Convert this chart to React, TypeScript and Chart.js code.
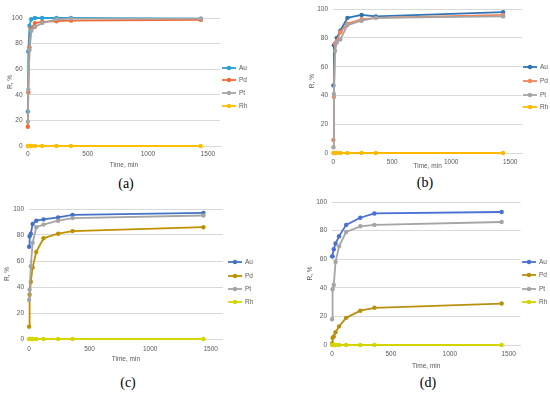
import React, { useEffect, useRef } from 'react';
import { Chart, registerables } from 'chart.js';
Chart.register(...registerables);

const timeMin = [1, 5, 15, 30, 60, 120, 240, 360, 1440];
const seriesNames = ['Au', 'Pd', 'Pt', 'Rh'];
const xTickValues = [0, 500, 1000, 1500];
const yTickValues = [0, 20, 40, 60, 80, 100];
const captions = ['(a)', '(b)', '(c)', '(d)'];

const auA = [27, 74, 94, 99, 100, 100, 100, 100, 99.5];
const pdA = [15, 42, 77, 92, 96, 97, 97.5, 98, 98.5];
const ptA = [19, 44, 75, 90, 93, 96, 99, 99.5, 99.5];
const rhA = [0, 0, 0, 0, 0, 0, 0, 0, 0];

const auB = [47, 75, 76, 80, 85, 94, 96, 95, 98];
const pdB = [9, 39, 76, 78, 84, 90, 93, 94, 96];
const ptB = [4, 41, 71, 77, 79, 89, 92, 94, 95];
const rhB = [0, 0, 0, 0, 0, 0, 0, 0, 0];

const auC = [71, 79, 81, 88.5, 91, 92, 93.5, 95.5, 97];
const pdC = [9.5, 34, 44, 55, 67, 77.5, 81, 83, 86];
const ptC = [30, 38, 56, 74, 86, 88, 91, 93, 95];
const rhC = [0, 0, 0, 0, 0, 0, 0, 0, 0];

const auD = [62, 62, 67, 71, 76, 84, 89, 92, 93];
const pdD = [1, 5, 6, 9, 13, 19, 24, 26, 29];
const ptD = [18, 39, 42, 58, 69, 79, 83, 84, 86];
const rhD = [0, 0, 0, 0, 0, 0, 0, 0, 0];

const panelSeries = [
  [auA, pdA, ptA, rhA],
  [auB, pdB, ptB, rhB],
  [auC, pdC, ptC, rhC],
  [auD, pdD, ptD, rhD],
];

const panelColors = [
  ['#2B9FD8', '#F26B35', '#A5A5A5', '#FFC000'],
  ['#2E75B6', '#F4845A', '#A5A5A5', '#FFB800'],
  ['#4472C4', '#BF9000', '#A5A5A5', '#D6D600'],
  ['#4A6FD6', '#B8900F', '#A5A5A5', '#D4D400'],
];

// layout of each panel (page coordinates)
const panels = [
  { cv: { l: 0, t: 0, w: 275, h: 175 }, area: { l: 27.7, r: 220, t: 18, b: 146 }, yLabR: 22.5, yTitleX: 10, xTickY: 154, xTitleY: 165.6, leg: { x: 222, ys: [68, 80, 93, 106] }, cap: { x: 126, y: 184 } },
  { cv: { l: 275, t: 0, w: 275, h: 175 }, area: { l: 333.3, r: 522, t: 8.3, b: 153 }, yLabR: 328, yTitleX: 312, xTickY: 162, xTitleY: 166.5, leg: { x: 523, ys: [67, 81, 95, 107] }, cap: { x: 425, y: 183 } },
  { cv: { l: 0, t: 190, w: 275, h: 180 }, area: { l: 29, r: 222.8, t: 209, b: 339 }, yLabR: 24, yTitleX: 7, xTickY: 349, xTitleY: 359, leg: { x: 228, ys: [262, 276, 289, 302] }, cap: { x: 128, y: 383 } },
  { cv: { l: 275, t: 190, w: 275, h: 180 }, area: { l: 332, r: 520.5, t: 202, b: 345 }, yLabR: 327, yTitleX: 310, xTickY: 354, xTitleY: 366, leg: { x: 522, ys: [262, 275, 289, 302] }, cap: { x: 428, y: 383 } },
];

const FONT = 'Liberation Sans';
const TICK_SIZE = 6.5;
const TEXT_COLOR = '#595959';
const YW = 24;
const XH = 26;

const lineLegend = {
  id: 'lineLegend',
  afterDraw(chart: any, _args: any, opts: any) {
    const ctx = chart.ctx;
    const { x, ys } = opts;
    chart.data.datasets.forEach((ds: any, i: number) => {
      const y = ys[i];
      ctx.save();
      ctx.strokeStyle = ds.borderColor;
      ctx.lineWidth = 1.8;
      ctx.beginPath();
      ctx.moveTo(x, y);
      ctx.lineTo(x + 14, y);
      ctx.stroke();
      ctx.fillStyle = ds.borderColor;
      ctx.beginPath();
      ctx.arc(x + 7, y, 2.2, 0, Math.PI * 2);
      ctx.fill();
      ctx.fillStyle = TEXT_COLOR;
      ctx.font = `${TICK_SIZE}px "${FONT}"`;
      ctx.textBaseline = 'middle';
      ctx.textAlign = 'left';
      ctx.fillText(ds.label, x + 17, y);
      ctx.restore();
    });
  },
};

function Panel({ idx }: { idx: number }) {
  const ref = useRef<HTMLCanvasElement>(null);
  const p = panels[idx];
  useEffect(() => {
    if (!ref.current) return;
    const lh = TICK_SIZE * 1.2;
    const padLeft = p.area.l - p.cv.l - YW;
    const padTop = p.area.t - p.cv.t;
    const padRight = p.cv.l + p.cv.w - p.area.r;
    const padBottom = p.cv.t + p.cv.h - p.area.b - XH;
    const datasets = seriesNames.map((name, i) => ({
      label: name,
      data: timeMin.map((t, k) => ({ x: t, y: panelSeries[idx][i][k] })),
      borderColor: panelColors[idx][i],
      backgroundColor: panelColors[idx][i],
      borderWidth: 1.8,
      pointRadius: 2.2,
      pointBorderWidth: 0,
      tension: 0,
      clip: false as any,
      order: 3 - i,
    }));
    const chart = new Chart(ref.current, {
      type: 'line',
      data: { datasets },
      options: {
        animation: false,
        responsive: false,
        maintainAspectRatio: false,
        layout: { padding: { left: padLeft, top: padTop, right: padRight, bottom: padBottom } },
        plugins: {
          legend: { display: false },
          tooltip: { enabled: false },
          lineLegend: { x: p.leg.x - p.cv.l, ys: p.leg.ys.map((y) => y - p.cv.t) },
        } as any,
        scales: {
          x: {
            type: 'linear',
            min: 0,
            max: 1600,
            afterFit: (s: any) => { s.height = XH; },
            afterBuildTicks: (s: any) => { s.ticks = xTickValues.map((v) => ({ value: v })); },
            grid: { display: false, drawTicks: false },
            border: { display: true, color: '#D9D9D9', width: 1 },
            ticks: {
              font: { family: FONT, size: TICK_SIZE },
              color: TEXT_COLOR,
              padding: p.xTickY - p.area.b - lh / 2,
              maxRotation: 0,
              callback: (v: any) => String(v),
            },
            title: {
              display: true,
              text: 'Time, min',
              font: { family: FONT, size: TICK_SIZE },
              color: TEXT_COLOR,
              padding: { top: 0, bottom: p.area.b + XH - p.xTitleY - lh / 2 },
            },
          },
          y: {
            type: 'linear',
            min: 0,
            max: 100,
            afterFit: (s: any) => { s.width = YW; },
            afterBuildTicks: (s: any) => { s.ticks = yTickValues.map((v) => ({ value: v })); },
            grid: { color: '#D9D9D9', lineWidth: 1, drawTicks: false },
            border: { display: false },
            ticks: {
              font: { family: FONT, size: TICK_SIZE },
              color: TEXT_COLOR,
              padding: p.area.l - p.yLabR,
              callback: (v: any) => String(v),
            },
            title: {
              display: true,
              text: 'R, %',
              font: { family: FONT, size: TICK_SIZE },
              color: TEXT_COLOR,
              padding: { top: p.yTitleX - (p.area.l - YW) - lh / 2, bottom: 0 },
            },
          },
        },
      },
      plugins: [lineLegend as any],
    });
    return () => chart.destroy();
  }, [idx]);
  return (
    <>
      <canvas
        ref={ref}
        width={p.cv.w}
        height={p.cv.h}
        style={{ position: 'absolute', left: p.cv.l, top: p.cv.t, width: p.cv.w, height: p.cv.h }}
      />
      <div
        style={{
          position: 'absolute',
          left: p.cap.x,
          top: p.cap.y,
          transform: 'translate(-50%, -50%)',
          fontFamily: '"Liberation Serif", serif',
          fontSize: 14,
          color: '#000',
          whiteSpace: 'nowrap',
        }}
      >
        {captions[idx]}
      </div>
    </>
  );
}

export default function App() {
  return (
    <div style={{ position: 'absolute', left: 0, top: 0, width: 550, height: 394, background: '#fff', overflow: 'hidden' }}>
      {panels.map((_, i) => (
        <Panel key={i} idx={i} />
      ))}
    </div>
  );
}
